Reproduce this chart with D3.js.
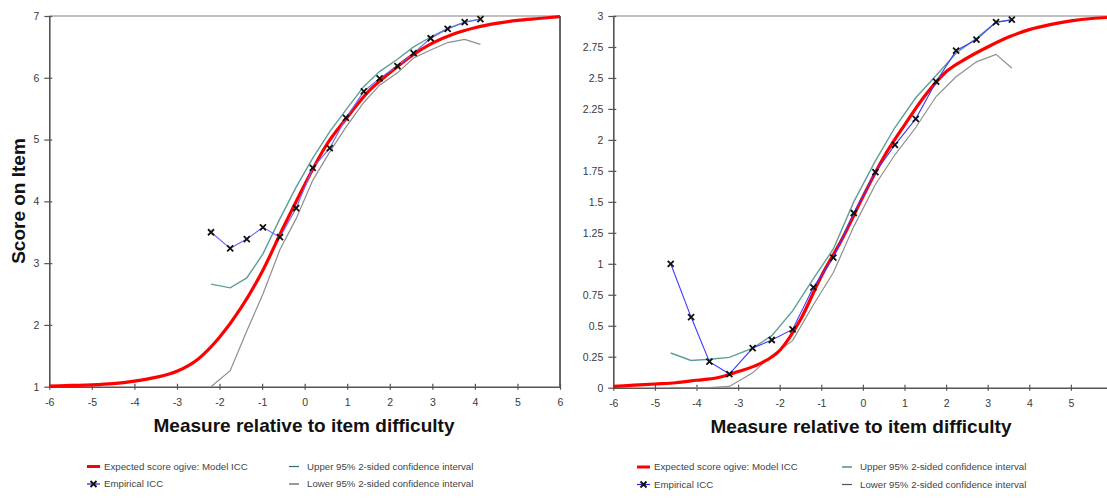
<!DOCTYPE html>
<html>
<head>
<meta charset="utf-8">
<script src="https://cdn.jsdelivr.net/npm/d3@7"></script>
<style>
  html, body { margin: 0; padding: 0; background: #fff; overflow: hidden; }
  svg { display: block; }
  text { font-family: "Liberation Sans", Arial, sans-serif; }
</style>
</head>
<body>
<svg id="chart" width="1107" height="498"></svg>
<script>
// ---------- Item A (7-point scale) ----------
const modelXA = [-6, -5.5, -5, -4.5, -4, -3.5, -3, -2.5, -2, -1.5, -1, -0.5, 0, 0.5, 1, 1.5, 2, 2.5, 3, 3.5, 4, 4.5, 5, 5.5, 6];
const modelYA = [1.01, 1.02, 1.03, 1.05, 1.09, 1.15, 1.25, 1.45, 1.80, 2.27, 2.86, 3.58, 4.27, 4.90, 5.36, 5.78, 6.08, 6.35, 6.56, 6.71, 6.81, 6.88, 6.93, 6.96, 6.99];
const empXA = [-2.2, -1.75, -1.36, -0.98, -0.58, -0.2, 0.19, 0.59, 0.97, 1.39, 1.76, 2.18, 2.56, 2.96, 3.36, 3.76, 4.13];
const empYA = [3.5, 3.24, 3.39, 3.58, 3.42, 3.89, 4.54, 4.86, 5.35, 5.78, 5.99, 6.19, 6.4, 6.64, 6.79, 6.9, 6.95];
const upperA = [2.66, 2.6, 2.76, 3.15, 3.72, 4.23, 4.7, 5.13, 5.48, 5.86, 6.1, 6.3, 6.5, 6.66, 6.8, 6.9, 6.95];
const lowerA = [1.0, 1.26, 1.9, 2.5, 3.22, 3.72, 4.34, 4.8, 5.2, 5.6, 5.88, 6.08, 6.32, 6.45, 6.57, 6.62, 6.54];
const yTicksA = [1, 2, 3, 4, 5, 6, 7];
const xTicksA = [-6, -5, -4, -3, -2, -1, 0, 1, 2, 3, 4, 5, 6];

// ---------- Item B (4-point scale) ----------
const modelXB = [-6, -5.5, -5, -4.5, -4, -3.5, -3, -2.5, -2, -1.5, -1, -0.5, 0, 0.5, 1, 1.5, 2, 2.5, 3, 3.5, 4, 4.5, 5, 5.5, 6];
const modelYB = [0.01, 0.02, 0.03, 0.04, 0.06, 0.08, 0.13, 0.19, 0.30, 0.55, 0.90, 1.20, 1.54, 1.86, 2.12, 2.36, 2.55, 2.66, 2.75, 2.83, 2.89, 2.93, 2.96, 2.98, 2.99];
const empXB = [-4.62, -4.13, -3.69, -3.21, -2.65, -2.19, -1.69, -1.19, -0.71, -0.22, 0.3, 0.77, 1.27, 1.76, 2.24, 2.73, 3.2, 3.58];
const empYB = [1.0, 0.57, 0.21, 0.11, 0.32, 0.385, 0.47, 0.81, 1.05, 1.41, 1.74, 1.96, 2.17, 2.47, 2.72, 2.81, 2.95, 2.97];
const upperB = [0.28, 0.22, 0.23, 0.245, 0.32, 0.42, 0.62, 0.88, 1.12, 1.5, 1.83, 2.1, 2.34, 2.52, 2.7, 2.82, 2.95, 2.97];
const lowerB = [0, 0, 0, 0.01, 0.12, 0.26, 0.38, 0.67, 0.93, 1.3, 1.64, 1.88, 2.1, 2.35, 2.51, 2.63, 2.69, 2.58];
const yTicksB = [0, 0.25, 0.5, 0.75, 1, 1.25, 1.5, 1.75, 2, 2.25, 2.5, 2.75, 3];
const xTicksB = [-6, -5, -4, -3, -2, -1, 0, 1, 2, 3, 4, 5];

const legendItems = [
  "Expected score ogive: Model ICC",
  "Empirical ICC",
  "Upper 95% 2-sided confidence interval",
  "Lower 95% 2-sided confidence interval"
];

const COLORS = { model: "#ff0000", emp: "#6666ff", empB: "#3c3cff", upper: "#5f9e98", lower: "#8e8e8e", axis: "#555" };

const svg = d3.select("#chart");

function zip(xs, ys) { return xs.map((x, i) => [x, ys[i]]); }

function drawPanel(cfg) {
  const x = d3.scaleLinear().domain([-6, 6]).range([cfg.x0, cfg.x0 + cfg.pxPerUnit * 12]);
  const y = d3.scaleLinear().domain(cfg.yDomain).range([cfg.yBottom, cfg.yTop]);
  const g = svg.append("g");

  // frame: top rule and right border
  g.append("line").attr("x1", x(-6)).attr("x2", x(6)).attr("y1", cfg.yTop).attr("y2", cfg.yTop)
    .attr("stroke", "#808080").attr("stroke-width", 1.2);
  g.append("line").attr("x1", x(6)).attr("x2", x(6)).attr("y1", cfg.yTop).attr("y2", cfg.yBottom)
    .attr("stroke", "#333").attr("stroke-width", 1.5);

  // y axis
  const yAxis = g.append("g").attr("transform", `translate(${x(-6)},0)`)
    .call(d3.axisLeft(y).tickValues(cfg.yTicks).tickSize(0).tickPadding(10).tickFormat(d => String(d)));
  yAxis.select(".domain").attr("stroke", COLORS.axis).attr("stroke-width", 1.6);
  yAxis.selectAll(".tick line").remove();
  yAxis.selectAll(".tick").append("line").attr("x1", -5).attr("x2", 3).attr("stroke", COLORS.axis).attr("stroke-width", 1.2);
  yAxis.selectAll("text").attr("fill", "#3a3a3a").style("font-size", "10.5px");

  // x axis (full line to +6, labels only where listed)
  const xAxis = g.append("g").attr("transform", `translate(0,${cfg.yBottom})`)
    .call(d3.axisBottom(x).tickValues(cfg.xTicks).tickSize(0).tickPadding(12).tickFormat(d => String(d)));
  xAxis.select(".domain").attr("stroke", COLORS.axis).attr("stroke-width", 1.6);
  xAxis.selectAll(".tick line").remove();
  xAxis.selectAll(".tick").append("line").attr("y1", -3).attr("y2", 3).attr("stroke", COLORS.axis).attr("stroke-width", 1.2);
  xAxis.selectAll("text").attr("fill", "#3a3a3a").style("font-size", "10.5px");

  const lin = d3.line().x(d => x(d[0])).y(d => y(d[1]));
  const smooth = d3.line().x(d => x(d[0])).y(d => y(d[1])).curve(d3.curveMonotoneX);

  // confidence bands
  g.append("path").datum(zip(cfg.empX, cfg.upper)).attr("d", lin)
    .attr("fill", "none").attr("stroke", COLORS.upper).attr("stroke-width", 1.4);
  g.append("path").datum(zip(cfg.empX, cfg.lower)).attr("d", lin)
    .attr("fill", "none").attr("stroke", COLORS.lower).attr("stroke-width", 1.2);

  // model ogive
  g.append("path").datum(zip(cfg.modelX, cfg.modelY)).attr("d", smooth)
    .attr("fill", "none").attr("stroke", COLORS.model).attr("stroke-width", 3.2);

  // empirical ICC
  const emp = zip(cfg.empX, cfg.empY);
  g.append("path").datum(emp).attr("d", lin)
    .attr("fill", "none").attr("stroke", cfg.empColor).attr("stroke-width", 1.1);
  const s = 3;
  g.selectAll(".mk").data(emp).enter().append("path")
    .attr("d", d => `M${x(d[0]) - s},${y(d[1]) - s}L${x(d[0]) + s},${y(d[1]) + s}M${x(d[0]) - s},${y(d[1]) + s}L${x(d[0]) + s},${y(d[1]) - s}`)
    .attr("stroke", "#111").attr("stroke-width", 1.8).attr("fill", "none");

  // x axis title
  g.append("text").attr("x", cfg.titleX).attr("y", cfg.titleY).attr("text-anchor", "middle")
    .style("font-size", "19px").style("font-weight", "bold").attr("fill", "#111")
    .text("Measure relative to item difficulty");

  // legend
  const L = cfg.legend;
  const rows = [L.row1, L.row2];
  g.append("line").attr("x1", L.c1).attr("x2", L.c1 + 13).attr("y1", rows[0]).attr("y2", rows[0])
    .attr("stroke", COLORS.model).attr("stroke-width", 3);
  g.append("line").attr("x1", L.c1).attr("x2", L.c1 + 13).attr("y1", rows[1]).attr("y2", rows[1])
    .attr("stroke", "#2020ff").attr("stroke-width", 1.2);
  const mx = L.c1 + 6.5, my = rows[1];
  g.append("path").attr("d", `M${mx - s},${my - s}L${mx + s},${my + s}M${mx - s},${my + s}L${mx + s},${my - s}`)
    .attr("stroke", "#111").attr("stroke-width", 1.8);
  g.append("line").attr("x1", L.c2).attr("x2", L.c2 + 10).attr("y1", rows[0]).attr("y2", rows[0])
    .attr("stroke", "#2e6e68").attr("stroke-width", 1.2);
  g.append("line").attr("x1", L.c2).attr("x2", L.c2 + 10).attr("y1", rows[1]).attr("y2", rows[1])
    .attr("stroke", "#555").attr("stroke-width", 1.2);

  const lt = [[L.c1 + 17, rows[0]], [L.c1 + 17, rows[1]], [L.c2 + 18, rows[0]], [L.c2 + 18, rows[1]]];
  legendItems.forEach((t, i) => {
    g.append("text").attr("x", lt[i][0]).attr("y", lt[i][1]).attr("dy", "0.35em")
      .style("font-size", "9.7px").attr("fill", "#444").text(t);
  });
  return { x, y };
}

drawPanel({
  x0: 49.3, pxPerUnit: 42.56, yTop: 16, yBottom: 386.7, yDomain: [1, 7], yTicks: yTicksA, xTicks: xTicksA,
  modelX: modelXA, modelY: modelYA, empX: empXA, empY: empYA, upper: upperA, lower: lowerA,
  empColor: COLORS.emp, titleX: 304, titleY: 432,
  legend: { c1: 87, c2: 289, row1: 466.5, row2: 484 }
});

drawPanel({
  x0: 613.3, pxPerUnit: 41.6, yTop: 16, yBottom: 387.7, yDomain: [0, 3], yTicks: yTicksB, xTicks: xTicksB,
  modelX: modelXB, modelY: modelYB, empX: empXB, empY: empYB, upper: upperB, lower: lowerB,
  empColor: COLORS.empB, titleX: 861, titleY: 433,
  legend: { c1: 637, c2: 842, row1: 467, row2: 484.5 }
});

// y axis title on the left panel
svg.append("text").attr("transform", "translate(25,201) rotate(-90)").attr("text-anchor", "middle")
  .style("font-size", "19px").style("font-weight", "bold").attr("fill", "#111")
  .text("Score on Item");
</script>
</body>
</html>
